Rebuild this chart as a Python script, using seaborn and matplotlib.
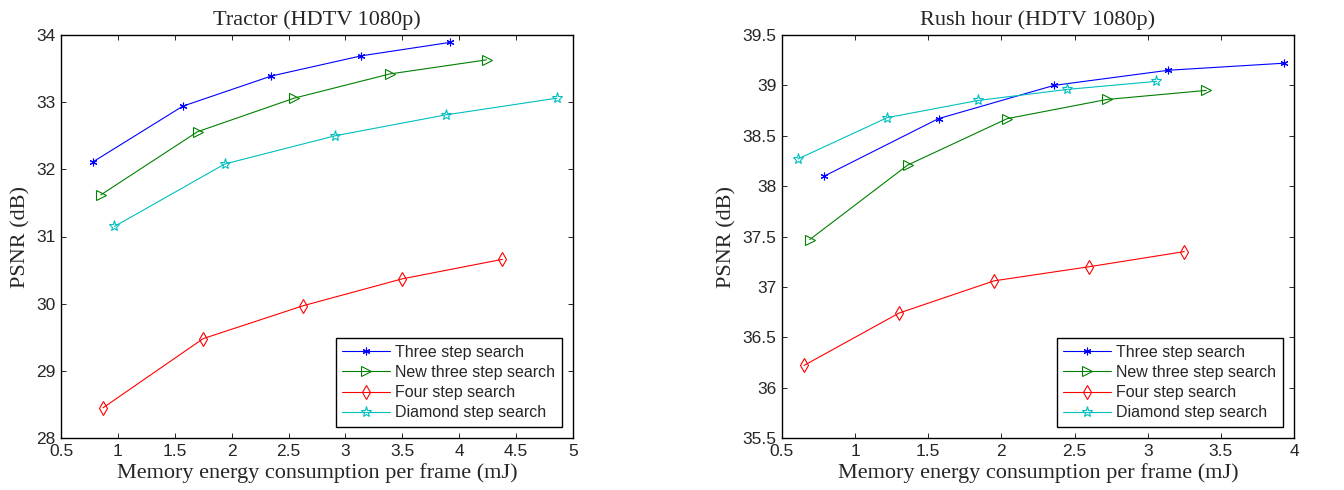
"""PSNR vs memory energy for block matching searches (two sequences)."""

import matplotlib

matplotlib.use("Agg")

import matplotlib.pyplot as plt
import pandas as pd
import seaborn as sns

SERIES = ["Three step search", "New three step search", "Four step search", "Diamond step search"]

# Tractor (HDTV 1080p)
tractor_three_x = [0.78, 1.57, 2.35, 3.14, 3.92]
tractor_three_y = [32.11, 32.94, 33.39, 33.69, 33.89]
tractor_new_x = [0.85, 1.70, 2.55, 3.39, 4.24]
tractor_new_y = [31.62, 32.56, 33.06, 33.42, 33.63]
tractor_four_x = [0.87, 1.75, 2.63, 3.50, 4.38]
tractor_four_y = [28.45, 29.48, 29.97, 30.37, 30.66]
tractor_diamond_x = [0.97, 1.94, 2.91, 3.88, 4.86]
tractor_diamond_y = [31.15, 32.08, 32.50, 32.81, 33.06]

# Rush hour (HDTV 1080p)
rush_three_x = [0.79, 1.57, 2.36, 3.14, 3.93]
rush_three_y = [38.10, 38.67, 39.00, 39.15, 39.22]
rush_new_x = [0.69, 1.36, 2.04, 2.72, 3.40]
rush_new_y = [37.47, 38.21, 38.67, 38.86, 38.95]
rush_four_x = [0.65, 1.30, 1.95, 2.60, 3.25]
rush_four_y = [36.22, 36.74, 37.06, 37.20, 37.35]
rush_diamond_x = [0.61, 1.22, 1.84, 2.45, 3.06]
rush_diamond_y = [38.27, 38.68, 38.85, 38.96, 39.04]

STYLES = {
    "Three step search": dict(color="#0000ff", marker=(6, 2, 0), markersize=5.5),
    "New three step search": dict(color="#008000", marker=">", markersize=7.5),
    "Four step search": dict(color="#ff0000", marker="d", markersize=7.5),
    "Diamond step search": dict(color="#00bfbf", marker="*", markersize=8),
}

sns.set_style("ticks")
plt.rcParams["font.family"] = ["Liberation Serif", "DejaVu Serif"]


def _frame(xs, ys):
    rows = []
    for name, x, y in zip(SERIES, xs, ys):
        for xv, yv in zip(x, y):
            rows.append({"series": name, "energy": xv, "psnr": yv})
    return pd.DataFrame(rows)


def _draw(ax, df, title, xlim, ylim, xticks, yticks):
    for name in SERIES:
        sub = df[df["series"] == name]
        st = STYLES[name]
        sns.lineplot(
            data=sub, x="energy", y="psnr", ax=ax, sort=False, label=name,
            color=st["color"], marker=st["marker"], markersize=st["markersize"],
            markerfacecolor="none", markeredgecolor=st["color"], markeredgewidth=0.8,
            linewidth=0.8,
        )
    ax.set_xlim(*xlim)
    ax.set_ylim(*ylim)
    ax.set_xticks(xticks)
    ax.set_xticklabels([f"{t:g}" for t in xticks], family="Liberation Sans")
    ax.set_yticks(yticks)
    ax.set_yticklabels([f"{t:g}" for t in yticks], family="Liberation Sans")
    ax.tick_params(direction="in", top=True, right=True, labelsize=12.5, length=3.6, width=0.7, pad=4)
    for spine in ax.spines.values():
        spine.set_visible(True)
        spine.set_color("black")
        spine.set_linewidth(1.0)
    ax.set_title(title, fontsize=16, pad=7)
    ax.set_xlabel("Memory energy consumption per frame (mJ)", fontsize=16, labelpad=3)
    ax.set_ylabel("PSNR (dB)", fontsize=16, labelpad=4)
    leg = ax.legend(loc="lower right", fancybox=False, framealpha=1, edgecolor="black",
                    handlelength=3.0, borderpad=0.4, labelspacing=0.33, handletextpad=0.35,
                    borderaxespad=0.7, prop={"family": "Liberation Sans", "size": 11.5})
    leg.get_frame().set_linewidth(1.0)


fig = plt.figure(figsize=(13.44, 4.9), dpi=100)
ax1 = fig.add_axes([61 / 1344, 52 / 490, 512 / 1344, 403 / 490])
ax2 = fig.add_axes([782 / 1344, 52 / 490, 512 / 1344, 403 / 490])

tractor = _frame(
    [tractor_three_x, tractor_new_x, tractor_four_x, tractor_diamond_x],
    [tractor_three_y, tractor_new_y, tractor_four_y, tractor_diamond_y],
)
rush = _frame(
    [rush_three_x, rush_new_x, rush_four_x, rush_diamond_x],
    [rush_three_y, rush_new_y, rush_four_y, rush_diamond_y],
)

_draw(ax1, tractor, "Tractor (HDTV 1080p)", (0.5, 5), (28, 34),
      [0.5, 1, 1.5, 2, 2.5, 3, 3.5, 4, 4.5, 5], list(range(28, 35)))
_draw(ax2, rush, "Rush hour (HDTV 1080p)", (0.5, 4), (35.5, 39.5),
      [0.5, 1, 1.5, 2, 2.5, 3, 3.5, 4], [35.5, 36, 36.5, 37, 37.5, 38, 38.5, 39, 39.5])

fig.savefig("out.png", dpi=100)
plt.close(fig)
